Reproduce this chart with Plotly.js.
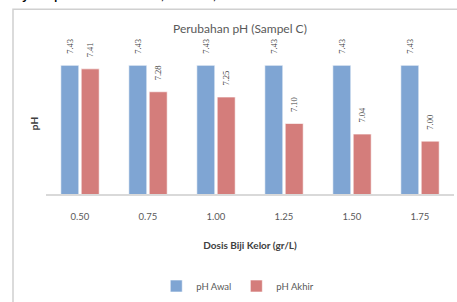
<!DOCTYPE html>
<html>
<head>
<meta charset="utf-8">
<script src="https://cdn.plot.ly/plotly-3.0.1.min.js"></script>
<style>html,body{margin:0;padding:0;background:#fff;}#chart{width:457px;height:302px;}</style>
</head>
<body>
<div id="chart"></div>
<script>
const categories = ["0.50", "0.75", "1.00", "1.25", "1.50", "1.75"];
const phAwal = [7.43, 7.43, 7.43, 7.43, 7.43, 7.43];
const phAkhir = [7.41, 7.28, 7.25, 7.10, 7.04, 7.00];
const seriesNames = ["pH Awal", "pH Akhir"];
const chartTitle = "Perubahan pH (Sampel C)";
const xTitle = "Dosis Biji Kelor (gr/L)";
const yTitle = "pH";
const docText = "terjadi pada kisaran 6,84 – 8,74";

const pad = "\u00a0\u00a0\u00a0\u00a0";
const labelFont = {family: "Liberation Serif, serif", size: 8.5, color: "#404040"};

function barTrace(name, vals, color) {
  return {
    type: "bar", name: name, x: categories, y: vals,
    text: vals.map(v => pad + v.toFixed(2)),
    textposition: "outside", textangle: -90, cliponaxis: false, constraintext: "none",
    textfont: labelFont,
    marker: {color: color, line: {color: "rgba(255,255,255,0.6)", width: 1}},
    hoverinfo: "skip"
  };
}

const L = 46, R = 3, T = 53, B = 107, W = 457, H = 302;
const pw = W - L - R, ph = H - T - B;
const px = v => (v - L) / pw;
const py = v => (H - B - v) / ph;

const data = [barTrace(seriesNames[0], phAwal, "#7FA5D3"), barTrace(seriesNames[1], phAkhir, "#D47D7B")];

const layout = {
  width: W, height: H,
  margin: {l: L, r: R, t: T, b: B},
  paper_bgcolor: "#fff", plot_bgcolor: "#fff",
  font: {family: "Lato, sans-serif", color: "#595959"},
  barmode: "group", bargap: 0.4, bargroupgap: 0.12,
  showlegend: true,
  legend: {orientation: "h", x: 0.47, xanchor: "center", y: py(286), yanchor: "middle",
           font: {size: 9.5, color: "#595959"}, itemwidth: 30, traceorder: "normal"},
  xaxis: {type: "category", showline: true, linecolor: "#d9d9d9", linewidth: 1.5,
          ticks: "", showgrid: false, tickfont: {size: 9.5, color: "#595959"}, ticklabelstandoff: 13,
          title: {text: xTitle, font: {size: 10, color: "#404040", weight: "bold"}, standoff: 21}},
  yaxis: {range: [6.7, 7.5], showticklabels: false, showgrid: false, zeroline: false, showline: false, ticks: "",
          title: {text: yTitle, font: {size: 10, color: "#404040", weight: "bold"}, standoff: 4}},
  annotations: [
    {text: chartTitle, xref: "paper", yref: "paper", x: px(240), y: py(28), xanchor: "center", yanchor: "middle",
     showarrow: false, font: {size: 12, color: "#595959"}},
    {text: docText, xref: "paper", yref: "paper", x: px(0), y: py(5), xanchor: "left", yanchor: "bottom",
     showarrow: false, font: {size: 17, color: "#000", family: "Lato, sans-serif"}}
  ],
  shapes: [
    {type: "rect", xref: "paper", yref: "paper", x0: px(13), x1: px(480), y0: py(330), y1: py(9),
     line: {color: "#d0d0d0", width: 1.5}, fillcolor: "rgba(0,0,0,0)", layer: "below"}
  ]
};

Plotly.newPlot("chart", data, layout, {displayModeBar: false, staticPlot: true});
</script>
</body>
</html>
